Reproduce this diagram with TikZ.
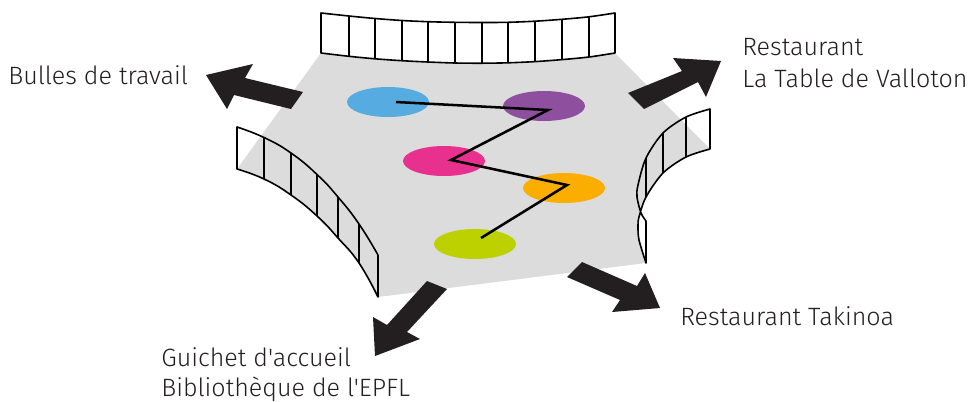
\documentclass[tikz,border=0pt]{standalone}
\usepackage{fontspec}
\newfontfamily\lblfont{Fira Sans Light}
\definecolor{plan}{HTML}{DCDCDC}
\definecolor{ink}{HTML}{231F20}
\definecolor{cblue}{HTML}{56ACE0}
\definecolor{cpurple}{HTML}{8E4F9E}
\definecolor{cpink}{HTML}{E8318F}
\definecolor{corange}{HTML}{FBAE00}
\definecolor{cgreen}{HTML}{BDD000}
\usetikzlibrary{shapes.geometric}
\tikzset{
  blockarrow/.style={fill=ink,draw=none},
  stripline/.style={draw=black,line width=1.2pt,line join=round},
  tick/.style={draw=black,line width=1.2pt},
  spot/.style={ellipse,minimum width=61.5pt,minimum height=22.5pt,inner sep=0pt,draw=none},
  route/.style={draw=black,line width=1.9pt,line join=miter},
  lbl/.style={anchor=base west,inner sep=0pt,font=\lblfont\fontsize{18.8pt}{22pt}\selectfont,text=ink}
}
\def\topUpper{(321,13) (349,16) (375,18.5) (402,20.5) (428,21.7) (455,22.3) (482,22.5) (508,22.3) (535,21.2) (562,19.3) (589,16.8) (615,13)}
\def\topLower{(615,53) (589,57) (562,59.6) (535,61.6) (508,62.8) (482,63.2) (455,63) (428,62) (402,60.7) (375,58.8) (349,56.3) (321,53)}
\def\leftUpper{(237,127) (264,137.5) (291,153) (317,174.5) (338,197) (359,224) (378,255)}
\def\leftLower{(378,297) (359,263) (338,238) (317,216) (291,195) (264,179) (237,169)}
\def\rightUpper{(710,109) (686,117) (663,133) (646,158) (638,185) (637,197) (641,213) (646,221)}
\def\rightLower{(646,263) (639,240) (638,226) (639,217) (646,197) (663,173) (686,157) (710,149)}
\begin{document}
\begin{tikzpicture}[x=0.75pt,y=-0.75pt]
\useasboundingbox (0,0) rectangle (970,401);
% floor
\fill[plan] plot[smooth,tension=0.5] coordinates {(321,53) (349,56.3) (375,58.8) (402,60.7) (428,62) (455,63) (482,63.2) (508,62.8) (535,61.6) (562,59.6) (589,57) (615,53)}
  -- plot[smooth,tension=0.5] coordinates {(710,149) (686,157) (663,173) (646,197) (639,217) (638,226) (639,240) (646,263)}
  -- plot[smooth,tension=0.8] coordinates \leftLower -- cycle;
% top strip
\draw[stripline] plot[smooth,tension=0.5] coordinates \topUpper -- plot[smooth,tension=0.5] coordinates \topLower -- cycle;
\foreach \x/\t/\b in {349/16/56.3,375/18.5/58.8,402/20.5/60.7,428/21.7/62,455/22.3/63,482/22.5/63.2,508/22.3/62.8,535/21.2/61.6,562/19.3/59.6,589/16.8/57}
  \draw[tick] (\x,\t) -- (\x,\b);
% left strip
\draw[stripline] plot[smooth,tension=0.8] coordinates \leftUpper -- plot[smooth,tension=0.8] coordinates \leftLower -- cycle;
\foreach \x/\t/\b in {264/137.5/179,291/153/195,317/174.5/216,338/197/238,359/224/263}
  \draw[tick] (\x,\t) -- (\x,\b);
% right strip
\draw[stripline] plot[smooth,tension=0.5] coordinates \rightUpper -- plot[smooth,tension=0.5] coordinates \rightLower -- cycle;
\foreach \x/\t/\b in {686/117/157,663/133/173,646/158/197}
  \draw[tick] (\x,\t) -- (\x,\b);
% spots
\node[spot,fill=cblue] (s1) at (388,102) {};
\node[spot,fill=cpurple] (s2) at (544,106) {};
\node[spot,fill=cpink] (s3) at (444,161) {};
\node[spot,fill=corange] (s4) at (564,188) {};
\node[spot,fill=cgreen] (s5) at (475,244) {};
\coordinate (r1) at (396,102);
\coordinate (r2) at (548,110);
\coordinate (r3) at (451,160);
\coordinate (r4) at (567,185);
\coordinate (r5) at (481,238);
\draw[route] (r1) -- (r2) -- (r3) -- (r4) -- (r5);
% arrows
\fill[blockarrow] (206,75) -- (253,64) -- (245,78) -- (303,92) -- (291,109) -- (234,95) -- (227,109) -- cycle;
\fill[blockarrow] (628,93) -- (682,71) -- (673,58) -- (721,61) -- (706,97) -- (698,82) -- (644,109) -- cycle;
\fill[blockarrow] (375,356) -- (373,317) -- (387,325) -- (427,281) -- (447,289) -- (407,332) -- (420,339) -- cycle;
\fill[blockarrow] (582,262) -- (637,286) -- (645,273) -- (660,308) -- (612,312) -- (620,300) -- (567,277) -- cycle;
% labels
\node[lbl] (l1) at (8,84) {Bulles de travail};
\node[lbl] (l2) at (742,55) {Restaurant};
\node[lbl] (l3) at (742,87) {La Table de Valloton};
\node[lbl] (l4) at (680,325) {Restaurant Takinoa};
\node[lbl] (l5) at (161,366) {Guichet d'accueil};
\node[lbl] (l6) at (161,396) {Bibliothèque de l'EPFL};
\end{tikzpicture}
\end{document}
